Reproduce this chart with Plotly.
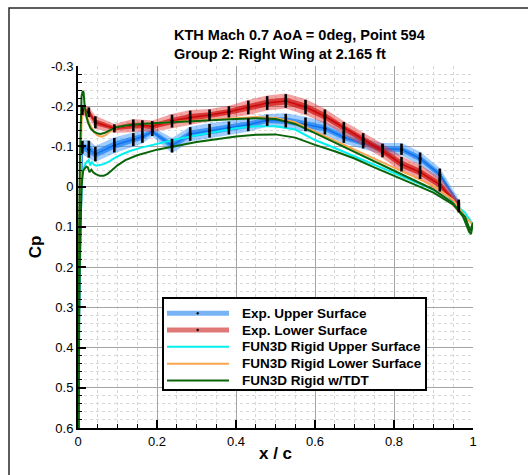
import numpy as np
import plotly.graph_objects as go

# ---------------- data ----------------
exp_x = [0.011, 0.0275, 0.044, 0.092, 0.14, 0.163, 0.188, 0.238, 0.284, 0.333, 0.382, 0.431,
         0.479, 0.526, 0.576, 0.625, 0.673, 0.722, 0.771, 0.819, 0.866, 0.916, 0.964]
exp_up_cp = [-0.098, -0.093, -0.081, -0.103, -0.117, -0.124, -0.137, -0.102, -0.131, -0.139, -0.146, -0.154,
             -0.165, -0.164, -0.155, -0.145, -0.123, -0.107, -0.094, -0.093, -0.070, -0.030, 0.043]
exp_up_err = [0.016, 0.021, 0.018, 0.018, 0.016, 0.015, 0.011, 0.017, 0.017, 0.017, 0.016, 0.016,
              0.014, 0.017, 0.017, 0.015, 0.014, 0.012, 0.013, 0.014, 0.015, 0.015, 0.011]
exp_lo_cp = [-0.190, -0.185, -0.160, -0.145, -0.152, -0.152, -0.150, -0.163, -0.172, -0.178, -0.186, -0.197,
             -0.208, -0.213, -0.198, -0.175, -0.146, -0.118, -0.089, -0.056, -0.036, -0.005, 0.050]
exp_lo_err = [0.012, 0.012, 0.015, 0.010, 0.015, 0.013, 0.013, 0.016, 0.017, 0.014, 0.014, 0.017,
              0.017, 0.017, 0.018, 0.017, 0.015, 0.015, 0.016, 0.018, 0.017, 0.017, 0.014]
exp_le_x = [0.0]
exp_le_cp = [0.52]

cyan_x = [0.0, 0.0015, 0.003, 0.005, 0.007, 0.010, 0.014, 0.019, 0.024, 0.027, 0.031, 0.035, 0.040,
          0.046, 0.055, 0.065, 0.078, 0.092, 0.11, 0.13, 0.16, 0.2, 0.25, 0.3, 0.35, 0.4, 0.45, 0.5,
          0.55, 0.6, 0.65, 0.7, 0.75, 0.8, 0.85, 0.9, 0.95, 0.98, 1.0]
cyan_cp = [1.0, 0.45, 0.30, 0.15, 0.04, -0.03, -0.045, -0.058, -0.064, -0.066, -0.053, -0.061, -0.055,
           -0.052, -0.054, -0.056, -0.062, -0.071, -0.080, -0.088, -0.097, -0.107, -0.118, -0.128, -0.137,
           -0.145, -0.150, -0.150, -0.142, -0.116, -0.096, -0.075, -0.053, -0.033, -0.013, 0.008, 0.040,
           0.065, 0.095]

orange_x = [0.0, 0.0015, 0.003, 0.005, 0.007, 0.009, 0.012, 0.016, 0.022, 0.03, 0.04, 0.05, 0.06, 0.07,
            0.08, 0.09, 0.1, 0.12, 0.15, 0.2, 0.25, 0.3, 0.35, 0.4, 0.45, 0.5, 0.55, 0.6, 0.65, 0.7,
            0.75, 0.8, 0.85, 0.9, 0.95, 0.98, 1.0]
orange_cp = [1.0, 0.40, 0.18, 0.0, -0.10, -0.16, -0.19, -0.19, -0.175, -0.155, -0.137, -0.127, -0.124,
             -0.128, -0.136, -0.143, -0.148, -0.152, -0.155, -0.158, -0.161, -0.164, -0.167, -0.171,
             -0.173, -0.171, -0.160, -0.137, -0.115, -0.093, -0.070, -0.048, -0.025, -0.002, 0.033,
             0.075, 0.095]

tdt_a_x = [0.0, 0.0015, 0.003, 0.005, 0.007, 0.009, 0.012, 0.014, 0.017, 0.021, 0.026, 0.032, 0.04,
           0.05, 0.058, 0.068, 0.08, 0.095, 0.12, 0.15, 0.2, 0.25, 0.3, 0.35, 0.4, 0.45, 0.5, 0.55,
           0.6, 0.65, 0.7, 0.75, 0.8, 0.85, 0.9, 0.95, 0.975, 0.99, 0.995, 1.0]
tdt_a_cp = [1.0, 0.35, 0.10, -0.08, -0.18, -0.225, -0.238, -0.235, -0.20, -0.175, -0.158, -0.145,
            -0.137, -0.132, -0.131, -0.134, -0.140, -0.147, -0.152, -0.155, -0.158, -0.161, -0.163,
            -0.166, -0.168, -0.170, -0.168, -0.156, -0.133, -0.110, -0.087, -0.063, -0.040, -0.018,
            0.007, 0.042, 0.075, 0.112, 0.118, 0.09]

tdt_b_x = [0.0, 0.0015, 0.003, 0.005, 0.007, 0.009, 0.013, 0.017, 0.021, 0.025, 0.029, 0.034, 0.039,
           0.045, 0.055, 0.065, 0.075, 0.085, 0.1, 0.12, 0.15, 0.2, 0.25, 0.3, 0.35, 0.4, 0.45, 0.5,
           0.55, 0.6, 0.65, 0.7, 0.75, 0.8, 0.85, 0.9, 0.95, 0.98, 0.993, 1.0]
tdt_b_cp = [1.0, 0.47, 0.32, 0.16, 0.06, 0.0, -0.04, -0.045, -0.05, -0.048, -0.036, -0.042, -0.035,
            -0.031, -0.027, -0.027, -0.032, -0.040, -0.053, -0.066, -0.078, -0.092, -0.102, -0.111,
            -0.118, -0.125, -0.129, -0.130, -0.122, -0.104, -0.088, -0.070, -0.048, -0.027, -0.007,
            0.015, 0.045, 0.075, 0.11, 0.09]

x_ticks = [0, 0.2, 0.4, 0.6, 0.8, 1.0]
x_ticklabels = ["0", "0.2", "0.4", "0.6", "0.8", "1"]
y_ticks = [-0.3, -0.2, -0.1, 0, 0.1, 0.2, 0.3, 0.4, 0.5, 0.6]
y_ticklabels = ["-0.3", "-0.2", "-0.1", "0", "0.1", "0.2", "0.3", "0.4", "0.5", "0.6"]

title_lines = ["KTH Mach 0.7 AoA = 0deg, Point 594", "Group 2: Right Wing at 2.165 ft"]

legend_names = ["Exp. Upper Surface", "Exp. Lower Surface", "FUN3D Rigid Upper Surface",
                "FUN3D Rigid Lower Surface", "FUN3D Rigid w/TDT"]
legend_colors = ["rgb(120,180,245)", "rgb(225,120,120)", "rgb(0,240,240)", "rgb(250,165,80)", "rgb(10,100,10)"]
legend_widths = [5, 5, 2, 2, 2]
legend_dots = [True, True, False, False, False]

FONT = "Liberation Sans, Arial, Helvetica, sans-serif"

# plot-area geometry (pixels) for placing paper-referenced decorations
W, H = 528, 475
ML, MR, MT, MB = 78, 55, 66, 47
PW, PH = W - ML - MR, H - MT - MB


def px(xp):
    return (xp - ML) / PW


def py(yp):
    return (H - MB - yp) / PH


fig = go.Figure()


def add_band(x, m, e, outer, inner, core):
    x = np.asarray(x)
    m = np.asarray(m)
    e = np.asarray(e)
    for frac, col in ((1.1, outer), (0.5, inner)):
        fig.add_trace(go.Scatter(x=x, y=m - frac * e, mode="lines", line=dict(width=0, color=col),
                                 showlegend=False, hoverinfo="skip"))
        fig.add_trace(go.Scatter(x=x, y=m + frac * e, mode="lines", line=dict(width=0, color=col),
                                 fill="tonexty", fillcolor=col, showlegend=False, hoverinfo="skip"))
    fig.add_trace(go.Scatter(x=x, y=m, mode="lines", line=dict(width=1.5, color=core),
                             showlegend=False, hoverinfo="skip"))


# experimental bands
up_x = exp_le_x + exp_x
up_m = exp_le_cp + exp_up_cp
up_e = [0.0] + exp_up_err
add_band(up_x, up_m, up_e, "rgba(45,145,250,0.45)", "rgba(20,125,245,0.7)", "rgba(15,110,235,0.9)")
add_band(exp_x, exp_lo_cp, exp_lo_err, "rgba(230,50,50,0.45)", "rgba(210,12,12,0.7)", "rgba(198,5,5,0.9)")

# CFD lines
fig.add_trace(go.Scatter(x=cyan_x, y=cyan_cp, mode="lines", name=legend_names[2],
                         line=dict(color=legend_colors[2], width=2), showlegend=False))
fig.add_trace(go.Scatter(x=orange_x, y=orange_cp, mode="lines", name=legend_names[3],
                         line=dict(color=legend_colors[3], width=2), showlegend=False))
fig.add_trace(go.Scatter(x=tdt_a_x, y=tdt_a_cp, mode="lines", name=legend_names[4],
                         line=dict(color=legend_colors[4], width=2), showlegend=False))
fig.add_trace(go.Scatter(x=tdt_b_x, y=tdt_b_cp, mode="lines", name=legend_names[4],
                         line=dict(color=legend_colors[4], width=2), showlegend=False))

# error bars
for nm, m, e in ((legend_names[0], exp_up_cp, exp_up_err), (legend_names[1], exp_lo_cp, exp_lo_err)):
    fig.add_trace(go.Scatter(x=exp_x, y=m, mode="markers", name=nm, marker=dict(color="black", size=3),
                             error_y=dict(type="data", array=e, color="black", thickness=2.6, width=0),
                             showlegend=False))

fig.update_layout(
    width=W, height=H,
    margin=dict(l=ML, r=MR, t=MT, b=MB),
    paper_bgcolor="white", plot_bgcolor="white",
    font=dict(family=FONT, size=13, color="black"),
    showlegend=False,
)

fig.update_xaxes(range=[0, 1], tickvals=x_ticks, ticktext=x_ticklabels,
                 ticks="inside", ticklen=8, tickwidth=2, tickcolor="black",
                 showline=True, linecolor="black", linewidth=2,
                 showgrid=True, gridcolor="rgb(165,165,165)", gridwidth=1, zeroline=False,
                 minor=dict(dtick=0.05, ticks="inside", ticklen=4, tickwidth=1, tickcolor="black",
                            showgrid=True, gridcolor="rgb(215,215,215)", griddash="dot", gridwidth=1),
                 title=dict(text="x / c", font=dict(family=FONT, size=17, weight="bold"), standoff=0),
                 tickfont=dict(size=13))
fig.update_yaxes(range=[0.6, -0.3], tickvals=y_ticks, ticktext=y_ticklabels,
                 ticks="inside", ticklen=8, tickwidth=2, tickcolor="black",
                 showline=True, linecolor="black", linewidth=2,
                 showgrid=True, gridcolor="rgb(165,165,165)", gridwidth=1, zeroline=False,
                 minor=dict(dtick=0.02, ticks="inside", ticklen=4, tickwidth=1, tickcolor="black",
                            showgrid=True, gridcolor="rgb(215,215,215)", griddash="dot", gridwidth=1),
                 title=dict(text="Cp", font=dict(family=FONT, size=17, weight="bold"), standoff=5),
                 tickfont=dict(size=13))

# title
fig.add_annotation(text="<br>".join(title_lines), xref="paper", yref="paper",
                   x=px(172), y=py(45), xanchor="left", yanchor="middle", align="left",
                   showarrow=False, font=dict(family=FONT, size=14.5, weight="bold", color="black"))

# legend box (drawn in paper space)
fig.add_shape(type="rect", xref="paper", yref="paper", x0=px(163), x1=px(426), y0=py(390), y1=py(298),
              line=dict(color="black", width=2), fillcolor="white", layer="above")
row_y = [313.3, 330.0, 346.7, 363.7, 380.5]
for name, col, lw, dot, yy in zip(legend_names, legend_colors, legend_widths, legend_dots, row_y):
    fig.add_shape(type="line", xref="paper", yref="paper", x0=px(167), x1=px(229), y0=py(yy), y1=py(yy),
                  line=dict(color=col, width=lw), layer="above")
    if dot:
        fig.add_shape(type="circle", xref="paper", yref="paper",
                      x0=px(196.7), x1=px(198.7), y0=py(yy + 1), y1=py(yy - 1),
                      line=dict(color="black", width=0.5), fillcolor="black", layer="above")
    fig.add_annotation(text=name, xref="paper", yref="paper", x=px(240), y=py(yy),
                       xanchor="left", yanchor="middle", showarrow=False,
                       font=dict(family=FONT, size=13.5, weight="bold", color="black"))

# outer frame
fig.add_shape(type="rect", xref="paper", yref="paper", x0=px(9), y0=py(500), x1=px(560), y1=py(8),
              line=dict(color="rgb(40,40,40)", width=1.5), layer="below")

fig.write_html("out.html")
